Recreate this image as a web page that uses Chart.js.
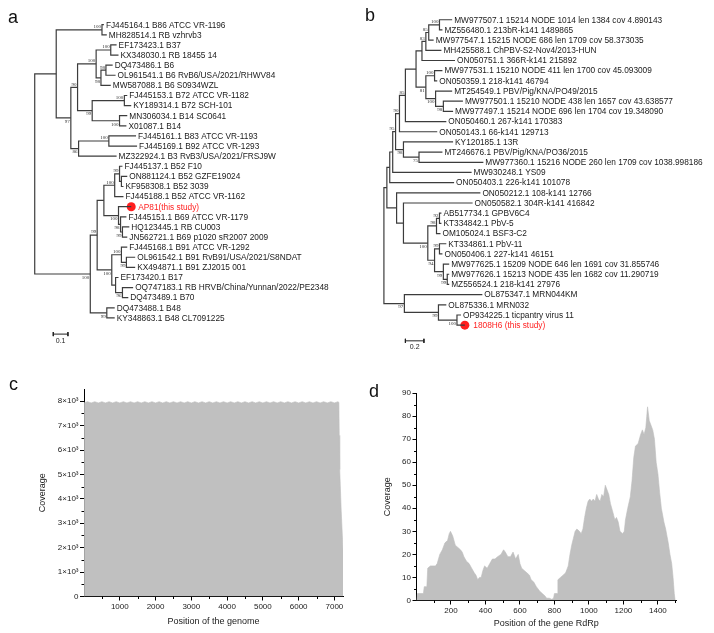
<!DOCTYPE html>
<html>
<head>
<meta charset="utf-8">
<script src="https://cdn.jsdelivr.net/npm/chart.js@4.4.1/dist/chart.umd.min.js"></script>
<style>
body { margin: 0; background: #fff; width: 714px; height: 633px; position: relative; overflow: hidden; font-family: 'Liberation Sans', Arial, sans-serif; }
canvas { position: absolute; }
.tag { position: absolute; font-size: 18px; line-height: 18px; color: #111; }
</style>
</head>
<body>
<canvas id="treeA" width="357" height="360" style="left:0;top:0"></canvas>
<canvas id="treeB" width="357" height="360" style="left:357px;top:0"></canvas>
<canvas id="covC" width="357" height="273" style="left:0;top:360px"></canvas>
<canvas id="covD" width="357" height="273" style="left:357px;top:360px"></canvas>
<div class="tag" style="left:8px;top:8px">a</div>
<div class="tag" style="left:365px;top:6px">b</div>
<div class="tag" style="left:9px;top:375px">c</div>
<div class="tag" style="left:369px;top:382px">d</div>
<script>
// ---- panel a: tree (branch depths in substitutions/site) ----
var leavesA = ['FJ445164.1 B86 ATCC VR-1196', 'MH828514.1 RB vzhrvb3', 'EF173423.1 B37', 'KX348030.1 RB 18455 14',
  'DQ473486.1 B6', 'OL961541.1 B6 RvB6/USA/2021/RHWV84', 'MW587088.1 B6 S0934WZL', 'FJ445153.1 B72 ATCC VR-1182',
  'KY189314.1 B72 SCH-101', 'MN306034.1 B14 SC0641', 'X01087.1 B14', 'FJ445161.1 B83 ATCC VR-1193',
  'FJ445169.1 B92 ATCC VR-1293', 'MZ322924.1 B3 RvB3/USA/2021/FRSJ9W', 'FJ445137.1 B52 F10', 'ON881124.1 B52 GZFE19024',
  'KF958308.1 B52 3039', 'FJ445188.1 B52 ATCC VR-1162', 'AP81(this study)', 'FJ445151.1 B69 ATCC VR-1179',
  'HQ123445.1 RB CU003', 'JN562721.1 B69 p1020 sR2007 2009', 'FJ445168.1 B91 ATCC VR-1292', 'OL961542.1 B91 RvB91/USA/2021/S8NDAT',
  'KX494871.1 B91 ZJ2015 001', 'EF173420.1 B17', 'OQ747183.1 RB HRVB/China/Yunnan/2022/PE2348', 'DQ473489.1 B70',
  'DQ473488.1 B48', 'KY348863.1 B48 CL7091225'];
var tipsA = [0.473, 0.493, 0.560, 0.573, 0.533, 0.553, 0.520, 0.633, 0.660, 0.633, 0.627, 0.693, 0.700, 0.560, 0.600,
  0.633, 0.607, 0.607, 0.660, 0.627, 0.647, 0.633, 0.633, 0.687, 0.687, 0.573, 0.673, 0.640, 0.547, 0.547];
var nodesA = ['root', 'U', 'N01', 'N97', 'N90', 'N26', 'N23', 'N456', 'N45', 'N710', 'N78', 'N910', 'N86', 'N1112',
  'L', 'M', 'P', 'N1417', 'N1416', 'N1516', 'N1821', 'N1921', 'N2021', 'Q', 'N2224', 'N2324', 'N2527', 'N2627', 'N2829'];
var depthA = [0, 0.147, 0.460, 0.247, 0.293, 0.420, 0.520, 0.453, 0.487, 0.393, 0.613, 0.580, 0.300, 0.507,
  0.380, 0.427, 0.473, 0.547, 0.580, 0.593, 0.573, 0.587, 0.600, 0.527, 0.593, 0.627, 0.553, 0.600, 0.493];
var bootA = [0, 0, 100, 97, 90, 100, 100, 98, 98, 99, 100, 100, 86, 100,
  100, 99, 0, 100, 99, 0, 100, 98, 99, 100, 100, 99, 0, 96, 99];
var kidsA = [['U', 'L'], ['N01', 'N97'], [0, 1], ['N90', 'N86'], ['N26', 'N710'], ['N23', 'N456'], [2, 3], ['N45', 6], [4, 5],
  ['N78', 'N910'], [7, 8], [9, 10], ['N1112', 13], [11, 12], ['M', 'N2829'], ['P', 'Q'], ['N1417', 'N1821'], ['N1416', 17],
  [14, 'N1516'], [15, 16], [18, 'N1921'], [19, 'N2021'], [20, 21], ['N2224', 'N2527'], [22, 'N2324'], [23, 24],
  [25, 'N2627'], [26, 27], [28, 29]];

// ---- panel b: tree ----
var leavesB = ['MW977507.1 15214 NODE 1014 len 1384 cov 4.890143', 'MZ556480.1 213bR-k141 1489865',
  'MW977547.1 15215 NODE 686 len 1709 cov 58.373035', 'MH425588.1 ChPBV-S2-Nov4/2013-HUN', 'ON050751.1 366R-k141 215892',
  'MW977531.1 15210 NODE 411 len 1700 cov 45.093009', 'ON050359.1 218-k141 46794', 'MT254549.1 PBV/Pig/KNA/PO49/2015',
  'MW977501.1 15210 NODE 438 len 1657 cov 43.638577', 'MW977497.1 15214 NODE 696 len 1704 cov 19.348090',
  'ON050460.1 267-k141 170383', 'ON050143.1 66-k141 129713', 'KY120185.1 13R', 'MT246676.1 PBV/Pig/KNA/PO36/2015',
  'MW977360.1 15216 NODE 260 len 1709 cov 1038.998186', 'MW930248.1 YS09', 'ON050403.1 226-k141 101078',
  'ON050212.1 108-k141 12766', 'ON050582.1 304R-k141 416842', 'AB517734.1 GPBV6C4', 'KT334842.1 PbV-5',
  'OM105024.1 BSF3-C2', 'KT334861.1 PbV-11', 'ON050406.1 227-k141 46151', 'MW977625.1 15209 NODE 646 len 1691 cov 31.855746',
  'MW977626.1 15213 NODE 435 len 1682 cov 11.290719', 'MZ556524.1 218-k141 27976', 'OL875347.1 MRN044KM',
  'OL875336.1 MRN032', 'OP934225.1 ticpantry virus 11', '1808H6 (this study)'];
var tipsB = [0.737, 0.632, 0.537, 0.621, 0.768, 0.632, 0.576, 0.737, 0.853, 0.747, 0.674, 0.576, 0.747, 0.632, 1.074,
  0.947, 0.758, 1.042, 0.958, 0.621, 0.621, 0.611, 0.674, 0.632, 0.705, 0.705, 0.705, 1.063, 0.674, 0.832, 0.874];
var nodesB = ['R', 'Q1', 'N16', 'N15', 'M', 'L', 'J', 'I', 'D', 'C', 'B', 'A', 'H', 'E', 'G', 'F', 'K1', 'K2',
  'Y', 'Z', 'C1926', 'C1921', 'C1920', 'C2226', 'C2223', 'C2426', 'C2526', 'T', 'T2', 'T3'];
var depthB = [0, 0.032, 0.063, 0.095, 0.126, 0.168, 0.232, 0.347, 0.411, 0.453, 0.484, 0.600, 0.453, 0.547, 0.558, 0.642,
  0.211, 0.379, 0.137, 0.211, 0.474, 0.568, 0.600, 0.547, 0.600, 0.642, 0.684, 0.221, 0.589, 0.789];
var bootB = [0, 0, 0, 0, 95, 90, 85, 0, 0, 83, 85, 100, 81, 100, 100, 98, 98, 75,
  0, 0, 100, 98, 92, 94, 99, 99, 99, 97, 99, 100];
var kidsB = [['Q1', 'T'], ['N16', 'Y'], ['N15', 16], ['M', 15], ['L', 'K1'], ['J', 11], ['I', 10], ['D', 'H'], ['C', 4],
  ['B', 3], ['A', 2], [0, 1], ['E', 'G'], [5, 6], [7, 'F'], [8, 9], [12, 'K2'], [13, 14],
  [17, 'Z'], [18, 'C1926'], ['C1921', 'C2226'], ['C1920', 21], [19, 20], ['C2223', 'C2426'], [22, 23], [24, 'C2526'], [25, 26],
  [27, 'T2'], [28, 'T3'], [29, 30]];

// ---- panel c: genome coverage ----
var posC = [0, 3, 12, 100, 200, 300, 400, 500, 600, 700, 800, 900, 1000, 1100, 1200, 1300, 1400, 1500, 1600, 1700, 1800,
  1900, 2000, 2100, 2200, 2300, 2400, 2500, 2600, 2700, 2800, 2900, 3000, 3100, 3200, 3300, 3400, 3500, 3600, 3700, 3800,
  3900, 4000, 4100, 4200, 4300, 4400, 4500, 4600, 4700, 4800, 4900, 5000, 5100, 5200, 5300, 5400, 5500, 5600, 5700, 5800,
  5900, 6000, 6100, 6200, 6300, 6400, 6500, 6600, 6700, 6800, 6900, 7000, 7100, 7125, 7135, 7148, 7190, 7240];
var covC = [0, 1600, 7940, 7980, 7930, 7980, 7930, 7980, 7930, 7980, 7930, 7980, 7930, 7980, 7930, 7980, 7930, 7980, 7930,
  7980, 7930, 7980, 7930, 7980, 7930, 7980, 7930, 7980, 7930, 7980, 7930, 7980, 7930, 7980, 7930, 7980, 7930, 7980, 7930,
  7980, 7930, 7980, 7930, 7980, 7930, 7980, 7930, 7980, 7930, 7980, 7930, 7980, 7930, 7980, 7930, 7980, 7930, 7980, 7930,
  7980, 7930, 7980, 7930, 7980, 7930, 7980, 7930, 7980, 7930, 7980, 7930, 7980, 7930, 7980, 7950, 6600, 5200, 3500, 1900];
var tickXC = [1000, 2000, 3000, 4000, 5000, 6000, 7000];
var tickYC = [0, 1000, 2000, 3000, 4000, 5000, 6000, 7000, 8000];

// ---- panel d: RdRp coverage ----
var posD = [0, 5, 40, 45, 60, 65, 80, 110, 120, 135, 150, 165, 180, 190, 197, 210, 225, 240, 255, 265, 275, 290, 305, 320,
  335, 345, 355, 365, 375, 385, 395, 410, 425, 440, 455, 470, 490, 505, 515, 530, 545, 560, 575, 590, 600, 610, 625, 640,
  655, 665, 680, 695, 705, 715, 730, 745, 755, 770, 785, 795, 800, 815, 820, 835, 850, 865, 880, 890, 900, 910, 920, 930,
  945, 955, 965, 975, 985, 995, 1005, 1015, 1025, 1035, 1045, 1055, 1065, 1075, 1085, 1095, 1105, 1115, 1125, 1140, 1150,
  1160, 1170, 1180, 1195, 1205, 1212, 1225, 1240, 1250, 1260, 1270, 1285, 1300, 1310, 1320, 1330, 1340, 1350, 1360, 1370,
  1380, 1390, 1400, 1410, 1420, 1435, 1445, 1460, 1470, 1480, 1488, 1495, 1500];
var covD = [0, 3, 3, 6, 6, 14, 15, 15, 16, 20, 22, 25, 26, 29, 30, 28, 24, 23, 22, 21, 19, 17, 16, 14, 12, 11, 9, 10, 10,
  13, 15, 14, 16, 18, 18, 19, 20, 22, 21, 19, 19, 21, 18, 20, 16, 14, 13, 12, 11, 9, 8, 6, 5, 4, 3, 2, 1, 1, 0.5, 1, 3, 3,
  9, 10, 11, 12, 15, 20, 24, 27, 30, 31, 30, 29, 31, 36, 40, 43, 44, 43, 44, 43, 46, 44, 43, 46, 45, 50, 48, 46, 42, 38,
  35, 36, 34, 30, 29, 30, 35, 40, 45, 52, 62, 67, 68, 72, 74, 72, 75, 84, 78, 76, 74, 70, 60, 55, 47, 40, 34, 31, 25, 20,
  16, 10, 3, 0];
var tickXD = [200, 400, 600, 800, 1000, 1200, 1400];
var tickYD = [0, 10, 20, 30, 40, 50, 60, 70, 80, 90];

var LINE = '#3c3c3c';
var RED = '#ff1f1f';
var FONT = "'Liberation Sans', Arial, sans-serif";

function buildTree(names, depth, boot, kids, tips) {
    var nodes = {};
    function place(ref) {
        if (typeof ref === 'number') return {x: tips[ref], y: ref};
        var k = names.indexOf(ref);
        var ks = kids[k].map(place);
        var n = {x: depth[k], y: (ks[0].y + ks[ks.length - 1].y) / 2, kids: ks, boot: boot[k]};
        ks.forEach(function(c, i) { if (c.kids) c.below = (i === ks.length - 1); });
        nodes[ref] = n;
        return n;
    }
    place(names[0]);
    var segs = [], boots = [];
    Object.keys(nodes).forEach(function(key) {
        var n = nodes[key], a = n.kids[0], b = n.kids[n.kids.length - 1];
        segs.push([{x: a.x, y: a.y}, {x: n.x, y: a.y}, {x: n.x, y: b.y}, {x: b.x, y: b.y}]);
        if (n.boot) boots.push({x: n.x, y: n.y, text: String(n.boot), below: !!n.below});
    });
    return {segs: segs, boots: boots};
}

function treeText(names, tips, boots, dot, dotGap, bar) {
    return {
        id: 'treeText',
        afterDatasetsDraw: function(chart) {
            var ctx = chart.ctx, xs = chart.scales.x, ys = chart.scales.y;
            ctx.save();
            ctx.font = '8.3px ' + FONT;
            ctx.textBaseline = 'middle';
            ctx.textAlign = 'left';
            names.forEach(function(name, i) {
                var isDot = i === dot;
                ctx.fillStyle = isDot ? RED : '#1a1a1a';
                ctx.fillText(name, xs.getPixelForValue(tips[i]) + (isDot ? dotGap : 2), ys.getPixelForValue(i) + 0.5);
            });
            ctx.font = "5px 'Liberation Serif', serif";
            ctx.fillStyle = '#333';
            ctx.textAlign = 'right';
            boots.forEach(function(b) {
                ctx.textBaseline = b.below ? 'top' : 'bottom';
                ctx.fillText(b.text, xs.getPixelForValue(b.x) - 1, ys.getPixelForValue(b.y) + (b.below ? 1 : -0.5));
            });
            ctx.font = '7px ' + FONT;
            ctx.fillStyle = '#222';
            ctx.textAlign = 'center';
            ctx.textBaseline = 'top';
            ctx.fillText(bar.label, xs.getPixelForValue(bar.x0 + bar.len / 2), ys.getPixelForValue(bar.y) + 3);
            ctx.restore();
        }
    };
}

function drawTree(id, names, tips, tree, dot, dotGap, bar, xr, yr) {
    var sets = tree.segs.map(function(s) {
        return {data: s, showLine: true, borderColor: LINE, borderWidth: 1.2, pointRadius: 0, tension: 0};
    });
    var h = 0.2;
    [[{x: bar.x0, y: bar.y}, {x: bar.x0 + bar.len, y: bar.y}],
     [{x: bar.x0, y: bar.y - h}, {x: bar.x0, y: bar.y + h}],
     [{x: bar.x0 + bar.len, y: bar.y - h}, {x: bar.x0 + bar.len, y: bar.y + h}]].forEach(function(s) {
        sets.push({data: s, showLine: true, borderColor: '#222', borderWidth: 1, pointRadius: 0});
    });
    sets.push({data: [{x: tips[dot], y: dot}], pointRadius: 4.5, pointBackgroundColor: RED, pointBorderWidth: 0, showLine: false});
    new Chart(document.getElementById(id), {
        type: 'scatter',
        data: {datasets: sets},
        options: {
            responsive: false, animation: false, events: [],
            plugins: {legend: {display: false}, tooltip: {enabled: false}},
            scales: {
                x: {type: 'linear', display: false, min: xr[0], max: xr[1]},
                y: {type: 'linear', display: false, min: yr[0], max: yr[1], reverse: true}
            }
        },
        plugins: [treeText(names, tips, tree.boots, dot, dotGap, bar)]
    });
}

drawTree('treeA', leavesA, tipsA, buildTree(nodesA, depthA, bootA, kidsA, tipsA), 18, 7,
    {x0: 0.127, len: 0.1, y: 30.6, label: '0.1'}, [-0.2067, 2.1733], [-2, 32.716]);
drawTree('treeB', leavesB, tipsB, buildTree(nodesB, depthB, bootB, kidsB, tipsB), 30, 8.5,
    {x0: 0.232, len: 0.2, y: 31.54, label: '0.2'}, [-0.242, 3.516], [-1.5, 32.98]);

function minorTicks(stepX, stepY) {
    return {
        id: 'minorTicks',
        afterDraw: function(chart) {
            var ctx = chart.ctx, xs = chart.scales.x, ys = chart.scales.y;
            ctx.save();
            ctx.strokeStyle = '#000';
            ctx.lineWidth = 1;
            ctx.beginPath();
            for (var v = stepX; v < xs.max; v += stepX * 2) {
                var px = Math.round(xs.getPixelForValue(v)) + 0.5;
                ctx.moveTo(px, ys.bottom); ctx.lineTo(px, ys.bottom + 2.5);
            }
            for (var w = stepY; w < ys.max; w += stepY * 2) {
                var py = Math.round(ys.getPixelForValue(w)) + 0.5;
                ctx.moveTo(xs.left, py); ctx.lineTo(xs.left - 2.5, py);
            }
            ctx.stroke();
            ctx.restore();
        }
    };
}

function axis(ticks, fmt, extra) {
    var o = {
        type: 'linear',
        afterBuildTicks: function(s) { s.ticks = ticks.map(function(v) { return {value: v}; }); },
        border: {display: true, color: '#000', width: 1},
        grid: {display: true, drawOnChartArea: false, drawTicks: true, tickLength: 4, color: '#000'},
        ticks: {color: '#222', font: {family: FONT, size: 8}, padding: 1.5, maxRotation: 0, autoSkip: false, callback: fmt}
    };
    for (var k in extra) o[k] = extra[k];
    return o;
}

function coverage(id, pos, cov, xOpt, yOpt, pad, minor) {
    new Chart(document.getElementById(id), {
        type: 'line',
        data: {datasets: [{
            data: pos.map(function(p, i) { return {x: p, y: cov[i]}; }),
            fill: 'origin', backgroundColor: '#c0c0c0', borderColor: '#bdbdbd', borderWidth: 0.6,
            pointRadius: 0, tension: 0
        }]},
        options: {
            responsive: false, animation: false, events: [],
            layout: {padding: pad},
            plugins: {legend: {display: false}, tooltip: {enabled: false}},
            scales: {x: xOpt, y: yOpt}
        },
        plugins: [minor]
    });
}

var sup = function(v) { return v === 0 ? '0' : (v / 1000) + '\u00d710\u00b3'; };
var plain = function(v) { return String(v); };

coverage('covC', posC, covC,
    axis(tickXC, plain, {min: 0, max: 7240,
        title: {display: true, text: 'Position of the genome', color: '#222', font: {family: FONT, size: 9}, padding: {top: 0, bottom: 6}},
        afterFit: function(s) { s.height = 36.5; }}),
    axis(tickYC, sup, {min: 0, max: 8500,
        title: {display: true, text: 'Coverage', color: '#222', font: {family: FONT, size: 9}, padding: {top: 37, bottom: 0}},
        afterFit: function(s) { s.width = 84; }}),
    {top: 29, right: 14, left: 0, bottom: 0}, minorTicks(500, 500));

coverage('covD', posD, covD,
    axis(tickXD, plain, {min: 0, max: 1505,
        title: {display: true, text: 'Position of the gene RdRp', color: '#222', font: {family: FONT, size: 9}, padding: {top: 0, bottom: 4}},
        afterFit: function(s) { s.height = 32.5; }}),
    axis(tickYD, plain, {min: 0, max: 90,
        title: {display: true, text: 'Coverage', color: '#222', font: {family: FONT, size: 9}, padding: {top: 25, bottom: 0}},
        afterFit: function(s) { s.width = 59.5; }}),
    {top: 33, right: 38, left: 0, bottom: 0}, minorTicks(100, 5));
</script>
</body>
</html>
